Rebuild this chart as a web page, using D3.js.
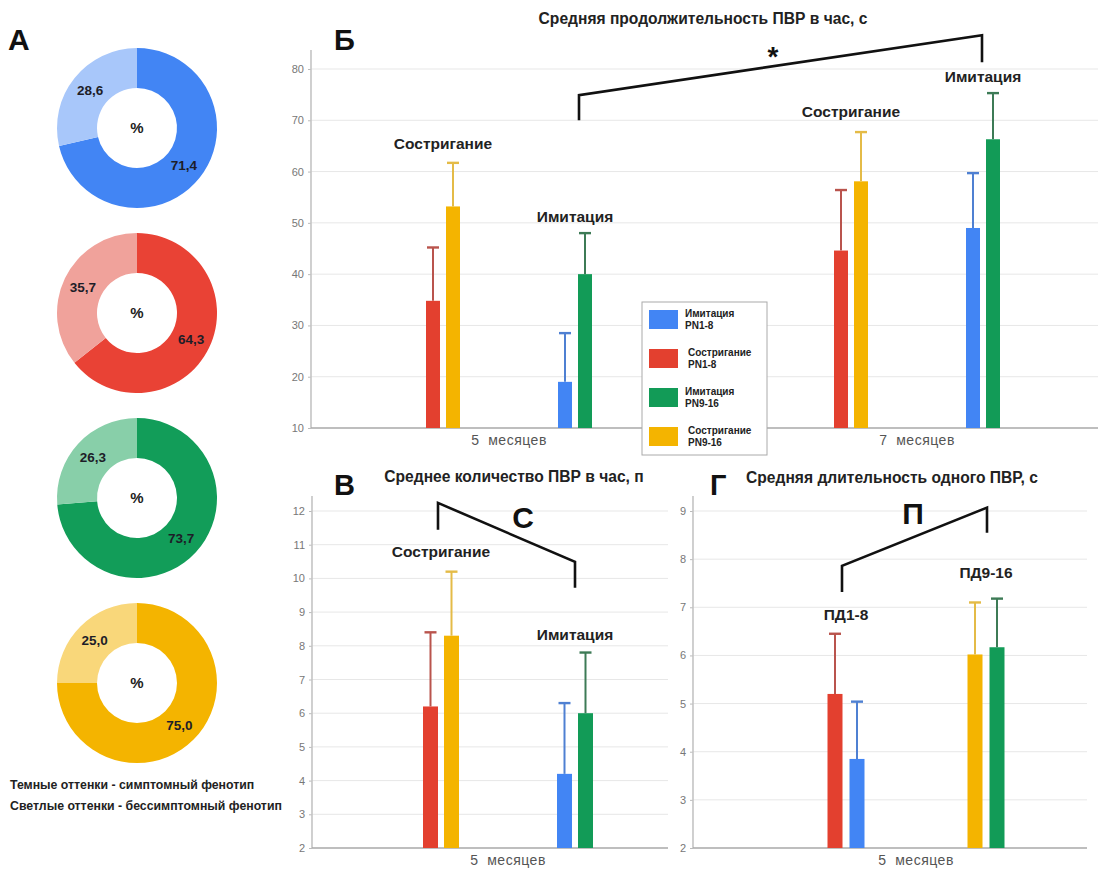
<!DOCTYPE html>
<html>
<head>
<meta charset="utf-8">
<script src="https://cdn.jsdelivr.net/npm/d3@7"></script>
<style>
  body { margin: 0; background: #fff; }
  svg { display: block; font-family: "Liberation Sans", Arial, sans-serif; }
</style>
</head>
<body>
<svg id="fig" width="1103" height="870"></svg>
<script>
// ---- Groups (series) ----
const seriesNames = ["Имитация PN1-8", "Состригание PN1-8", "Имитация PN9-16", "Состригание PN9-16"];
const seriesLegend = [["Имитация", "PN1-8"], ["Состригание", "PN1-8"], ["Имитация", "PN9-16"], ["Состригание", "PN9-16"]];
const barColors = ["#4285f4", "#e3402f", "#129b57", "#f4b400"];
const errColors = ["#4f80d2", "#b9544d", "#3d7b56", "#e4bb47"];

// ---- Panel А: phenotype shares, % ----
const symptomaticPct = [71.4, 64.3, 73.7, 75.0];
const asymptomaticPct = [28.6, 35.7, 26.3, 25.0];
const darkShades = ["#4285f4", "#e94235", "#129d59", "#f4b400"];
const lightShades = ["#a8c7fa", "#f0a29b", "#88cfa9", "#f9d77a"];
const phenotypeNotes = ["Темные оттенки - симптомный фенотип", "Светлые оттенки - бессимптомный фенотип"];

// ---- Panel Б: mean total duration per hour, s ----
const durMonths = ["5 месяцев", "7 месяцев"];
const durTicks = [10, 20, 30, 40, 50, 60, 70, 80];
const durMean = [[19.0, 49.0], [34.8, 44.6], [40.0, 66.3], [53.2, 58.1]];
const durErr  = [[9.5, 10.7], [10.4, 11.8], [8.0, 9.0], [8.5, 9.6]];

// ---- Panel В: mean count per hour, n ----
const cntMonths = ["5 месяцев"];
const cntTicks = [2, 3, 4, 5, 6, 7, 8, 9, 10, 11, 12];
const cntMean = [[4.2], [6.2], [6.0], [8.3]];
const cntErr  = [[2.1], [2.2], [1.8], [1.9]];

// ---- Panel Г: mean length of one episode, s ----
const lenMonths = ["5 месяцев"];
const lenTicks = [2, 3, 4, 5, 6, 7, 8, 9];
const lenMean = [[3.85], [5.2], [6.17], [6.02]];
const lenErr  = [[1.19], [1.25], [1.01], [1.08]];

// bar pairs inside each month group (series indices)
const methodPairs = [{ label: "Состригание", series: [1, 3] }, { label: "Имитация", series: [0, 2] }];
const agePairs = [{ label: "ПД1-8", series: [1, 0] }, { label: "ПД9-16", series: [3, 2] }];

const svg = d3.select("#fig");
svg.append("rect").attr("width", 1103).attr("height", 870).attr("fill", "#fff");

// ================= Panel А =================
const gA = svg.append("g");
gA.append("text").attr("x", 8).attr("y", 50).attr("font-size", 30).attr("font-weight", "bold")
  .attr("fill", "#111").text("А");

const pie = d3.pie().sort(null).value(d => d.v);
const arc = d3.arc().innerRadius(40).outerRadius(80);
const donutY = d3.scalePoint().domain(d3.range(4)).range([128, 683]);

d3.range(4).forEach(i => {
  const g = gA.append("g").attr("transform", `translate(137,${donutY(i)})`);
  const parts = pie([{ v: symptomaticPct[i], c: darkShades[i] }, { v: asymptomaticPct[i], c: lightShades[i] }]);
  g.selectAll("path").data(parts).join("path").attr("d", arc).attr("fill", d => d.data.c);
  g.selectAll("text.val").data(parts).join("text").attr("class", "val")
    .attr("transform", d => `translate(${arc.centroid(d)})`)
    .attr("text-anchor", "middle").attr("dy", "0.35em")
    .attr("font-size", 13.5).attr("font-weight", "bold").attr("fill", "#1d1d28")
    .text(d => d3.format(".1f")(d.data.v).replace(".", ","));
  g.append("text").attr("text-anchor", "middle").attr("dy", "0.35em")
    .attr("font-size", 15).attr("font-weight", "bold").attr("fill", "#222").text("%");
});

gA.selectAll("text.note").data(phenotypeNotes).join("text").attr("class", "note")
  .attr("x", 10).attr("y", (d, i) => 789 + i * 21)
  .attr("font-size", 12.3).attr("font-weight", "bold").attr("fill", "#222").text(d => d);

// ================= generic bar panel =================
function barPanel(o) {
  const g = svg.append("g");
  const y = d3.scaleLinear().domain(o.yDomain).range(o.yRange);
  const x0 = d3.scaleBand().domain(o.months).range(o.xRange);
  const pairIdx = o.pairs.map((p, i) => i);
  const x1 = d3.scaleBand().domain(pairIdx)
    .range([x0.bandwidth() / 2 - o.pairSpan / 2, x0.bandwidth() / 2 + o.pairSpan / 2]);
  const x2 = d3.scaleBand().domain([0, 1]).range([-(o.barW + o.barGap / 2), o.barW + o.barGap / 2])
    .paddingInner(o.barGap / (o.barW + o.barGap));
  const xPair = (m, p) => x0(m) + x1(p) + x1.bandwidth() / 2;

  const yBase = o.yRange[0];
  // grid
  g.selectAll("line.grid").data(o.ticks.slice(1)).join("line").attr("class", "grid")
    .attr("x1", o.axisX).attr("x2", o.gridRight).attr("y1", d => y(d)).attr("y2", d => y(d))
    .attr("stroke", "#e7e7e7").attr("stroke-width", 1);
  // y axis
  const ax = g.append("g").attr("transform", `translate(${o.axisX},0)`)
    .call(d3.axisLeft(y).tickValues(o.ticks).tickSize(3).tickPadding(4).tickFormat(d3.format("d")));
  ax.select(".domain").remove();
  ax.selectAll("line").attr("stroke", "#bbb");
  ax.selectAll("text").attr("font-size", 11).attr("fill", "#777").attr("font-family", null);
  g.append("line").attr("x1", o.axisX).attr("x2", o.axisX).attr("y1", o.axisTop).attr("y2", yBase)
    .attr("stroke", "#c4c4c4").attr("stroke-width", 1.6);
  // baseline
  g.append("line").attr("x1", o.axisX).attr("x2", o.gridRight).attr("y1", yBase).attr("y2", yBase)
    .attr("stroke", "#a9a9a9").attr("stroke-width", 1.4);
  // month labels
  const xa = g.append("g").attr("transform", `translate(0,${yBase})`)
    .call(d3.axisBottom(x0).tickSize(0).tickPadding(7).tickFormat(d => d.replace(" ", "\u00a0\u00a0")));
  xa.select(".domain").remove();
  xa.selectAll("text").attr("font-size", 14).attr("fill", "#555").attr("font-family", null)
    .attr("letter-spacing", 0.5);

  // bars
  const rows = [];
  o.months.forEach((m, mi) => o.pairs.forEach((p, pi) => p.series.forEach((s, k) => {
    rows.push({ m, pi, k, s, v: o.mean[s][mi], e: o.err[s][mi] });
  })));
  const bx = d => xPair(d.m, d.pi) + x2(d.k);
  g.selectAll("rect.bar").data(rows).join("rect").attr("class", "bar")
    .attr("x", bx).attr("width", x2.bandwidth())
    .attr("y", d => y(d.v)).attr("height", d => yBase - y(d.v))
    .attr("fill", d => barColors[d.s]);
  // error bars (upper whisker)
  const eb = g.selectAll("g.err").data(rows).join("g").attr("class", "err")
    .attr("stroke", d => errColors[d.s]).attr("stroke-width", 2);
  eb.append("line").attr("x1", d => bx(d) + x2.bandwidth() / 2).attr("x2", d => bx(d) + x2.bandwidth() / 2)
    .attr("y1", d => y(d.v)).attr("y2", d => y(d.v + d.e));
  eb.append("line").attr("x1", d => bx(d) + x2.bandwidth() / 2 - 6).attr("x2", d => bx(d) + x2.bandwidth() / 2 + 6)
    .attr("y1", d => y(d.v + d.e)).attr("y2", d => y(d.v + d.e)).attr("stroke-width", 2.4);

  // pair captions
  const caps = [];
  o.months.forEach((m, mi) => o.pairs.forEach((p, pi) => {
    const top = d3.max(p.series, s => o.mean[s][mi] + o.err[s][mi]);
    caps.push({ x: xPair(m, pi), y: y(top) - o.capGap[mi][pi], t: p.label });
  }));
  g.selectAll("text.cap").data(caps).join("text").attr("class", "cap")
    .attr("x", d => d.x).attr("y", d => d.y).attr("text-anchor", "middle")
    .attr("font-size", 15.5).attr("font-weight", "bold").attr("fill", "#222").text(d => d.t);

  // significance bracket
  const b = o.bracket;
  const pts = [[xPair(b.from[0], b.from[1]) + b.dx[0], y(b.yl[0])], [xPair(b.from[0], b.from[1]) + b.dx[0], y(b.yl[1])],
               [xPair(b.to[0], b.to[1]) + b.dx[1], y(b.yr[0])], [xPair(b.to[0], b.to[1]) + b.dx[1], y(b.yr[1])]];
  g.append("path").attr("d", d3.line()(pts)).attr("fill", "none")
    .attr("stroke", "#111").attr("stroke-width", 2.6).attr("stroke-linejoin", "miter");
  g.append("text").attr("x", o.mark.x).attr("y", o.mark.y).attr("text-anchor", "middle")
    .attr("font-size", o.mark.size).attr("font-weight", "bold").attr("fill", "#111").text(o.mark.t);

  // title + panel letter
  g.append("text").attr("x", o.title.x).attr("y", o.title.y).attr("text-anchor", "middle")
    .attr("font-size", 15.6).attr("font-weight", "bold").attr("fill", "#222").text(o.title.t);
  g.append("text").attr("x", o.letter.x).attr("y", o.letter.y)
    .attr("font-size", 29).attr("font-weight", "bold").attr("fill", "#111").text(o.letter.t);
  return g;
}

// ================= Panel Б =================
barPanel({
  months: durMonths, mean: durMean, err: durErr, pairs: methodPairs, ticks: durTicks,
  yDomain: [10, 80], yRange: [428, 69], xRange: [305, 1121], axisX: 311, axisTop: 50, gridRight: 1098,
  pairSpan: 264, barW: 14, barGap: 6,
  capGap: [[14, 11], [15, 11]],
  bracket: { from: ["5 месяцев", 1], to: ["7 месяцев", 1], dx: [4, -1], yl: [70, 74.9], yr: [86.6, 81.3] },
  mark: { x: 773, y: 66, size: 28, t: "*" },
  title: { x: 703, y: 24, t: "Средняя продолжительность ПВР в час, с" },
  letter: { x: 334, y: 50, t: "Б" }
});

// ================= Panel В =================
barPanel({
  months: cntMonths, mean: cntMean, err: cntErr, pairs: methodPairs, ticks: cntTicks,
  yDomain: [2, 12], yRange: [848, 511], xRange: [313, 703], axisX: 312, axisTop: 496, gridRight: 668,
  pairSpan: 268, barW: 15, barGap: 6,
  capGap: [[15, 13]],
  bracket: { from: ["5 месяцев", 0], to: ["5 месяцев", 1], dx: [-3, 0], yl: [11.44, 12.24], yr: [10.49, 9.72] },
  mark: { x: 523, y: 528, size: 30, t: "С" },
  title: { x: 514, y: 482, t: "Среднее количество ПВР в час, п" },
  letter: { x: 334, y: 495, t: "В" }
});

// ================= Panel Г =================
barPanel({
  months: lenMonths, mean: lenMean, err: lenErr, pairs: agePairs, ticks: lenTicks,
  yDomain: [2, 9], yRange: [848, 511], xRange: [693, 1139], axisX: 693, axisTop: 496, gridRight: 1087,
  pairSpan: 280, barW: 15, barGap: 7,
  capGap: [[14, 21]],
  bracket: { from: ["5 месяцев", 0], to: ["5 месяцев", 1], dx: [-4, 1], yl: [7.32, 7.86], yr: [9.07, 8.55] },
  mark: { x: 913, y: 524, size: 30, t: "П" },
  title: { x: 892, y: 483, t: "Средняя длительность одного ПВР, с" },
  letter: { x: 710, y: 495, t: "Г" }
});

// ================= Legend =================
const lg = svg.append("g").attr("transform", "translate(642,302)");
lg.append("rect").attr("width", 125).attr("height", 153).attr("fill", "#fff")
  .attr("stroke", "#aaa").attr("stroke-width", 1);
const ly = d3.scalePoint().domain(d3.range(4)).range([17, 134]);
const items = lg.selectAll("g.item").data(seriesNames).join("g").attr("class", "item")
  .attr("transform", (d, i) => `translate(0,${ly(i)})`);
items.append("rect").attr("x", 7).attr("y", -9).attr("width", 29).attr("height", 19)
  .attr("fill", (d, i) => barColors[i]);
items.each(function (d, i) {
  const t = d3.select(this).append("text").attr("x", i % 2 ? 46 : 43).attr("y", -2)
    .attr("font-size", 10).attr("font-weight", "bold").attr("fill", "#222");
  t.append("tspan").text(seriesLegend[i][0]);
  t.append("tspan").attr("x", i % 2 ? 46 : 43).attr("dy", 12).text(seriesLegend[i][1]);
});
</script>
</body>
</html>
